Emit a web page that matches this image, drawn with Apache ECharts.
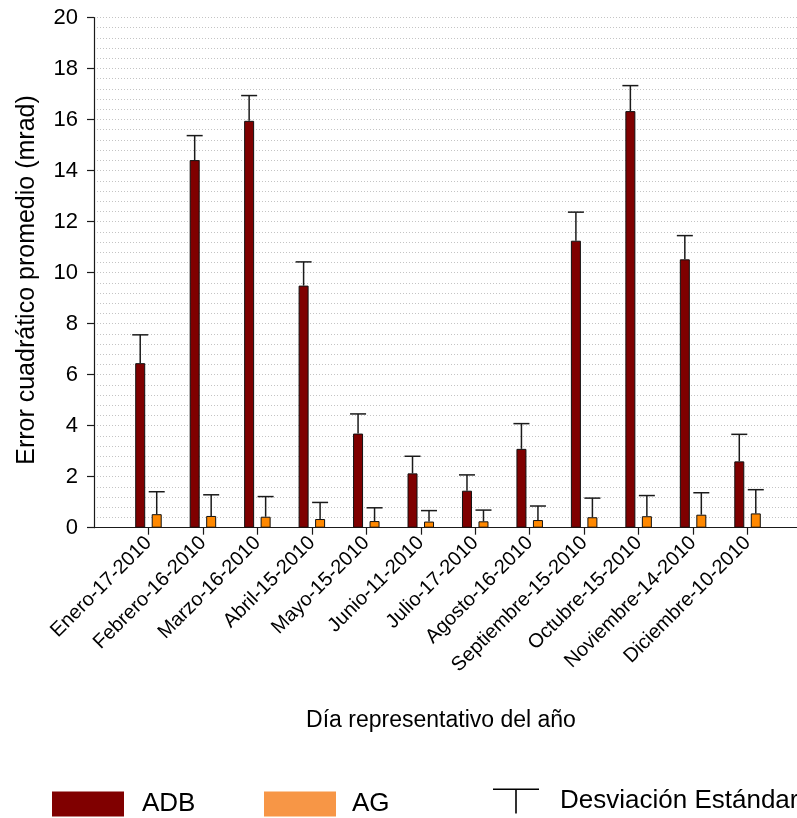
<!DOCTYPE html>
<html>
<head>
<meta charset="utf-8">
<script src="https://cdn.jsdelivr.net/npm/echarts@6/dist/echarts.min.js"></script>
<style>
html,body{margin:0;padding:0;overflow:hidden;background:#fff;}
#chart{width:810px;height:818px;}
</style>
</head>
<body>
<div id="chart"></div>
<script>
const categories = ['Enero-17-2010','Febrero-16-2010','Marzo-16-2010','Abril-15-2010','Mayo-15-2010','Junio-11-2010','Julio-17-2010','Agosto-16-2010','Septiembre-15-2010','Octubre-15-2010','Noviembre-14-2010','Diciembre-10-2010'];
const adbValues = [6.45, 14.41, 15.95, 9.49, 3.69, 2.13, 1.45, 3.09, 11.25, 16.33, 10.52, 2.60];
const adbStd    = [1.11, 0.96, 0.99, 0.93, 0.77, 0.67, 0.62, 0.99, 1.12, 1.00, 0.93, 1.06];
const agValues  = [0.53, 0.46, 0.43, 0.34, 0.26, 0.24, 0.25, 0.30, 0.41, 0.45, 0.51, 0.56];
const agStd     = [0.88, 0.83, 0.79, 0.65, 0.52, 0.43, 0.44, 0.55, 0.75, 0.81, 0.86, 0.93];
const yTicks = [0, 2, 4, 6, 8, 10, 12, 14, 16, 18, 20];

const FONT = 'Liberation Sans, Arial, sans-serif';
const idx = categories.map((c, i) => i);
const BAR_W = 10, BAR_GAP = '65%', OFF = 8.25;

function errRender(offset) {
  return function (params, api) {
    const i = api.value(0), v = api.value(1), sd = api.value(2);
    const p0 = api.coord([i, v]);
    const p1 = api.coord([i, v + sd]);
    const x = p0[0] + offset;
    const st = {stroke: '#1a1a1a', lineWidth: 1.5};
    return {type: 'group', children: [
      {type: 'line', shape: {x1: x, y1: p0[1], x2: x, y2: p1[1]}, style: st},
      {type: 'line', shape: {x1: x - 8, y1: p1[1], x2: x + 8, y2: p1[1]}, style: st}
    ]};
  };
}

const chart = echarts.init(document.getElementById('chart'), null, {renderer: 'canvas'});
chart.setOption({
  animation: false,
  backgroundColor: '#fff',
  textStyle: {fontFamily: FONT},
  grid: {left: 94, top: 17.5, width: 708, bottom: 290.3, containLabel: false},
  xAxis: {
    type: 'value', min: -1, max: 12,
    splitLine: {show: false},
    axisLine: {show: true, onZero: false, lineStyle: {color: '#1a1a1a', width: 1.2}},
    axisTick: {show: true, customValues: idx, length: 7, lineStyle: {color: '#1a1a1a', width: 1.2}},
    axisLabel: {
      customValues: idx, rotate: 45, margin: 12, fontSize: 20, color: '#000', fontFamily: FONT,
      formatter: v => categories[Math.round(v)] || ''
    }
  },
  yAxis: {
    type: 'value', min: 0, max: 20, interval: 2,
    axisLine: {show: true, onZero: false, lineStyle: {color: '#1a1a1a', width: 1.2}},
    axisTick: {show: true, length: 7, lineStyle: {color: '#1a1a1a', width: 1.2}},
    axisLabel: {fontSize: 22, color: '#000', margin: 16, fontFamily: FONT,
      customValues: yTicks},
    splitLine: {show: true, lineStyle: {color: '#c4c4c4', width: 1, type: [1, 2]}},
    minorTick: {show: false, splitNumber: 5},
    minorSplitLine: {show: true, lineStyle: {color: '#c4c4c4', width: 1, type: [1, 2]}}
  },
  legend: [
    {data: [{name: 'ADB', icon: 'rect', itemStyle: {color: '#800000', borderWidth: 0}}], left: 52, top: 791, padding: 0,
     itemWidth: 72, itemHeight: 25, selectedMode: false,
     textStyle: {fontSize: 26, color: '#000', fontFamily: FONT, padding: [6, 0, 0, 13]}},
    {data: [{name: 'AG', icon: 'rect', itemStyle: {color: '#f79646', borderWidth: 0}}], left: 264, top: 791, padding: 0,
     itemWidth: 72, itemHeight: 25, selectedMode: false,
     textStyle: {fontSize: 26, color: '#000', fontFamily: FONT, padding: [6, 0, 0, 11]}},
    {data: [{name: 'Desviación Estándar', icon: 'path://M0,0H46V1.6H23.8V25H22.2V1.6H0Z', itemStyle: {color: '#000', borderWidth: 0}}],
     left: 493, top: 788, padding: 0, itemWidth: 46, itemHeight: 25, selectedMode: false,
     textStyle: {fontSize: 26, color: '#000', fontFamily: FONT, padding: [12, 0, 0, 16]}}
  ],
  graphic: [
    {type: 'text', x: 441, y: 721, style: {text: 'Día representativo del año', fontSize: 23, fontFamily: FONT, fill: '#000', align: 'center', verticalAlign: 'middle'}},
    {type: 'text', x: 27, y: 280, rotation: Math.PI / 2, style: {text: 'Error cuadrático promedio (mrad)', fontSize: 25, fontFamily: FONT, fill: '#000', align: 'center', verticalAlign: 'middle'}}
  ],
  series: [
    {name: 'ADB', type: 'bar', barWidth: BAR_W, barGap: BAR_GAP,
     itemStyle: {color: '#7f0000', borderColor: '#111', borderWidth: 1},
     data: adbValues.map((v, i) => [i, v])},
    {name: 'AG', type: 'bar', barWidth: BAR_W, barGap: BAR_GAP,
     itemStyle: {color: '#ff8800', borderColor: '#111', borderWidth: 1},
     data: agValues.map((v, i) => [i, v])},
    {name: 'Desviación Estándar', type: 'custom', z: 5, itemStyle: {color: '#000'},
     renderItem: errRender(-OFF), encode: {x: 0, y: 1},
     data: adbValues.map((v, i) => [i, v, adbStd[i]])},
    {name: 'Desviación Estándar', type: 'custom', z: 5, itemStyle: {color: '#000'},
     renderItem: errRender(OFF), encode: {x: 0, y: 1},
     data: agValues.map((v, i) => [i, v, agStd[i]])}
  ]
});
</script>
</body>
</html>
